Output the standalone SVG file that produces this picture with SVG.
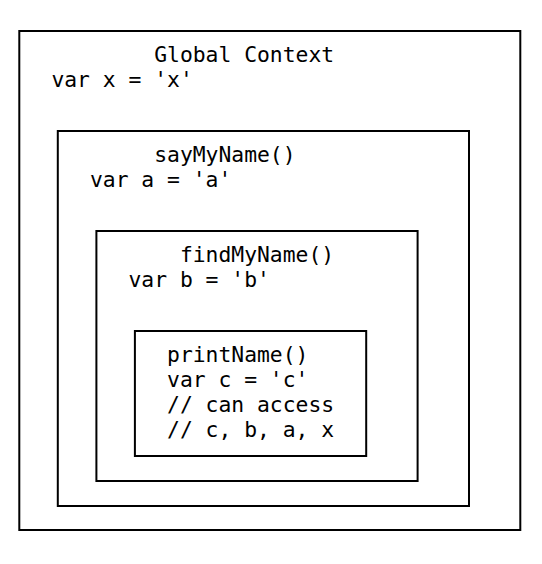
<svg xmlns="http://www.w3.org/2000/svg" width="542" height="564" viewBox="0 0 542 564">
<style>
.box{fill:none;stroke:#000;stroke-width:2}
text{font-family:"DejaVu Sans Mono",monospace;font-size:21.35px;fill:#000}
</style>
<rect width="542" height="564" fill="#fff"/>
<g id="global">
<rect class="box" x="19.3" y="31" width="501" height="499"/>
<text x="154.2" y="62">Global Context</text>
<text x="51.4" y="87">var x = 'x'</text>
</g>
<g id="sayMyName">
<rect class="box" x="57.8" y="131" width="411.2" height="375"/>
<text x="154.2" y="162">sayMyName()</text>
<text x="89.95" y="187">var a = 'a'</text>
</g>
<g id="findMyName">
<rect class="box" x="96.4" y="231" width="321.2" height="250"/>
<text x="179.9" y="262">findMyName()</text>
<text x="128.5" y="287">var b = 'b'</text>
</g>
<g id="printName">
<rect class="box" x="134.9" y="331" width="231.3" height="125"/>
<text x="167.05" y="362">printName()</text>
<text x="167.05" y="387">var c = 'c'</text>
<text x="167.05" y="412">// can access</text>
<text x="167.05" y="437">// c, b, a, x</text>
</g>
<g id="connectors"></g>
</svg>
